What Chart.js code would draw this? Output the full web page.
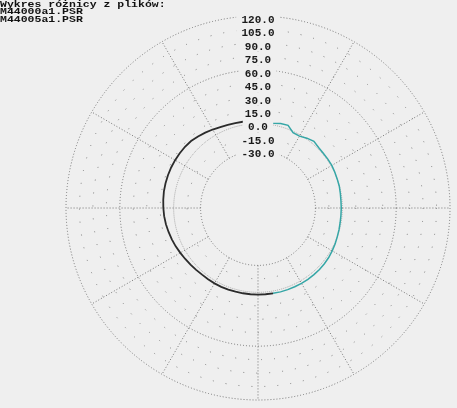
<!DOCTYPE html>
<html>
<head>
<meta charset="utf-8">
<script src="https://cdn.jsdelivr.net/npm/chart.js@4/dist/chart.umd.min.js"></script>
<style>
  html, body { margin: 0; padding: 0; background: #efefef; }
  canvas { display: block; }
</style>
</head>
<body>
<canvas id="chart" width="457" height="408"></canvas>
<script>
// Header lines printed in the top-left corner
const headerLines = ['Wykres różnicy z plików:', 'M44000a1.PSR', 'M44005a1.PSR'];

// Angular categories, degrees clockwise from the top (5° steps)
const angles = Array.from({ length: 72 }, (_, i) => String(i * 5));

// Radial tick labels and the rings drawn as full dotted circles
const radialTicks = [-30, -15, 0, 15, 30, 45, 60, 75, 90, 105, 120];
const majorRings = [-30, 60, 120];
const referenceRing = 0;
const radialMin = -94;
const radialMax = 120;

// Right half of the difference curve (0°..170°)
const seriesM44005 = [
  1.5, 1.5, 1.8, 3.5, 4.0, -1.5, -1.5, 1.0, 3.0, 1.5,
  1.0, 1.0, 1.0, 0.5, 0.0, -0.2, -0.8, -1.2, -1.2, -1.2,
  -1.0, -0.5, 0.0, 0.8, 1.5, 2.2, 2.6, 2.9, 3.0, 3.0,
  3.0, 2.9, 2.8, 2.8, 2.6, null, null, null, null, null,
  null, null, null, null, null, null, null, null, null, null,
  null, null, null, null, null, null, null, null, null, null,
  null, null, null, null, null, null, null, null, null, null,
  null, null
];

// Left half of the difference curve (170°..360°)
const seriesM44000 = [
  3.0, null, null, null, null, null, null, null, null, null,
  null, null, null, null, null, null, null, null, null, null,
  null, null, null, null, null, null, null, null, null, null,
  null, null, null, null, 2.6, 2.5, 2.5, 2.5, 2.5, 2.6,
  2.8, 3.0, 3.0, 3.0, 3.0, 3.5, 4.2, 5.0, 6.0, 7.2,
  8.2, 9.2, 10.2, 11.0, 11.5, 12.0, 12.5, 12.7, 12.8, 12.8,
  12.7, 12.5, 12.2, 11.5, 10.0, 8.5, 7.0, 5.5, 4.5, 4.0,
  3.6, 3.2
];

const BG = '#efefef';
const GRID = '#747474';
const SPOKE_EVERY = 6; // one spoke every 30°

// Header text in the top-left corner, in a squat bold monospace face
const headerText = {
  id: 'headerText',
  afterDraw(chart) {
    const c = chart.ctx;
    c.save();
    c.font = 'bold 11.5px "Liberation Mono"';
    c.fillStyle = '#111';
    c.textBaseline = 'middle';
    headerLines.forEach((line, i) => {
      c.save();
      c.translate(0, 4.5 + i * 7.4);
      c.scale(1, 0.82);
      c.fillText(line, 0, 0);
      c.restore();
    });
    c.restore();
  }
};

function spokeDash(ctx) {
  const scale = ctx.chart.scales.r;
  const start = scale.getDistanceFromCenterForValue(majorRings[0]);
  const dash = [0, start];
  for (let s = start; s < scale.drawingArea + 4; s += 3) dash.push(1, 2);
  return dash;
}

new Chart(document.getElementById('chart'), {
  type: 'radar',
  data: {
    labels: angles,
    datasets: [
      {
        label: 'M44000a1.PSR',
        data: seriesM44000,
        borderColor: '#2b2b2b',
        borderWidth: 1.8,
        fill: false,
        pointRadius: 0,
        tension: 0,
        spanGaps: false
      },
      {
        label: 'M44005a1.PSR',
        data: seriesM44005,
        borderColor: '#35a6a6',
        borderWidth: 1.5,
        fill: false,
        pointRadius: 0,
        tension: 0,
        spanGaps: false
      }
    ]
  },
  options: {
    responsive: false,
    animation: false,
    layout: { padding: { left: 59, right: -1, top: 9, bottom: 0 } },
    plugins: {
      legend: { display: false },
      title: { display: false },
      tooltip: { enabled: false }
    },
    scales: {
      r: {
        min: radialMin,
        max: radialMax,
        afterBuildTicks(scale) {
          scale.ticks = [radialMin, ...radialTicks].map(v => ({ value: v }));
        },
        pointLabels: { display: false },
        angleLines: {
          display: true,
          color: GRID,
          lineWidth: (ctx) => (ctx.index % SPOKE_EVERY === 0 ? 1 : 0),
          borderDash: spokeDash
        },
        grid: {
          circular: true,
          lineWidth: 1,
          color: (ctx) => {
            const v = ctx.tick.value;
            if (v === radialMin) return 'rgba(0,0,0,0)';
            if (majorRings.includes(v)) return GRID;
            if (v === referenceRing) return '#a6a6a6';
            return '#7e7e7e';
          }
        },
        border: {
          dash: (ctx) => {
            const v = ctx.tick.value;
            if (majorRings.includes(v)) return [1, 2];
            if (v === referenceRing) return [1, 1];
            return [1, 12];
          }
        },
        ticks: {
          z: 1,
          color: '#1a1a1a',
          font: { family: 'Liberation Mono', weight: 'bold', size: 11, lineHeight: '4px' },
          showLabelBackdrop: true,
          backdropColor: BG,
          backdropPadding: { top: -1, bottom: 3, left: 2, right: 2 },
          callback: (value) => (radialTicks.includes(value) ? ['', value.toFixed(1)] : '')
        }
      }
    }
  },
  plugins: [headerText]
});
</script>
</body>
</html>
